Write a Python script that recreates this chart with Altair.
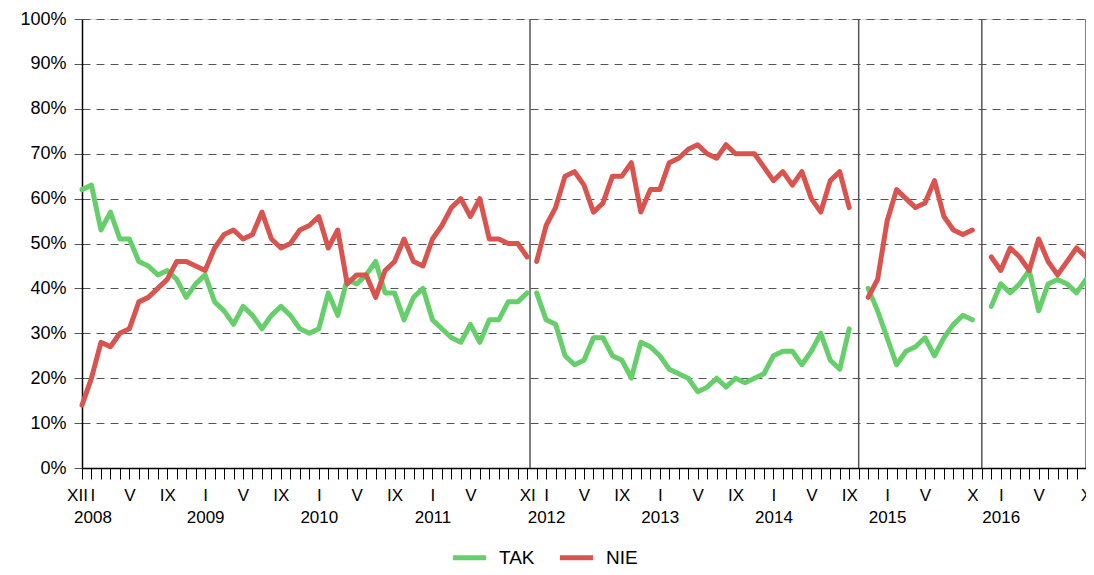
import altair as alt
import pandas as pd

# month index 0 = XII (first survey), one step per month
n_months = 107

tak = [62, 63, 53, 57, 51, 51, 46, 45, 43, 44, 42, 38, 41, 43, 37, 35, 32, 36, 34, 31,
       34, 36, 34, 31, 30, 31, 39, 34, 42, 41, 43, 46, 39, 39, 33, 38, 40, 33, 31, 29,
       28, 32, 28, 33, 33, 37, 37, 39,
       39, 33, 32, 25, 23, 24, 29, 29, 25, 24, 20, 28, 27, 25, 22, 21, 20, 17, 18, 20,
       18, 20, 19, 20, 21, 25, 26, 26, 23, 26, 30, 24, 22, 31,
       None,
       40, 35, 29, 23, 26, 27, 29, 25, 29, 32, 34, 33,
       None,
       36, 41, 39, 41, 44, 35, 41, 42, 41, 39, 42]

nie = [14, 20, 28, 27, 30, 31, 37, 38, 40, 42, 46, 46, 45, 44, 49, 52, 53, 51, 52, 57,
       51, 49, 50, 53, 54, 56, 49, 53, 41, 43, 43, 38, 44, 46, 51, 46, 45, 51, 54, 58,
       60, 56, 60, 51, 51, 50, 50, 47,
       46, 54, 58, 65, 66, 63, 57, 59, 65, 65, 68, 57, 62, 62, 68, 69, 71, 72, 70, 69,
       72, 70, 70, 70, 67, 64, 66, 63, 66, 60, 57, 64, 66, 58,
       None,
       38, 42, 55, 62, 60, 58, 59, 64, 56, 53, 52, 53,
       None,
       47, 44, 49, 47, 44, 51, 46, 43, 46, 49, 47]

series_names = ["TAK", "NIE"]
series_colors = ["#66CF6B", "#D9544E"]

# vertical separators between survey periods (month index)
separators = [47.3, 82, 95, 106]

month_label_idx = [0, 1, 5, 9, 13, 17, 21, 25, 29, 33, 37, 41, 47, 49, 53, 57, 61, 65,
                   69, 73, 77, 81, 85, 89, 94, 97, 101, 106]
month_label_txt = ["XII", "I", "V", "IX", "I", "V", "IX", "I", "V", "IX", "I", "V", "XI",
                   "I", "V", "IX", "I", "V", "IX", "I", "V", "IX", "I", "V", "X", "I", "V", "X"]
year_label_idx = [1, 13, 25, 37, 49, 61, 73, 85, 97]
year_label_txt = ["2008", "2009", "2010", "2011", "2012", "2013", "2014", "2015", "2016"]

y_ticks = [0, 10, 20, 30, 40, 50, 60, 70, 80, 90, 100]

rows = []
for name, vals in zip(series_names, [tak, nie]):
    for i, v in enumerate(vals):
        if v is None:
            continue
        seg = sum(1 for s in separators if s < i)
        rows.append({"m": i, "v": v, "series": name, "seg": seg})
df = pd.DataFrame(rows)
sep_df = pd.DataFrame({"m": separators})

labels = {}
for i, t in zip(month_label_idx, month_label_txt):
    labels[i] = [t]
for i, y in zip(year_label_idx, year_label_txt):
    labels[i] = labels.get(i, [""]) + [y]
parts = []
for k, v in labels.items():
    parts.append("'%d':[%s]" % (k, ",".join("'%s'" % s for s in v)))
label_expr = "({" + ",".join(parts) + "})[''+round(datum.value)] || ''"

FONT = "Liberation Sans"

x_axis = alt.Axis(
    values=list(range(n_months)),
    tickCount=n_months,
    labelExpr=label_expr,
    labelOverlap=False,
    labelFlush=False,
    labelBound=False,
    labelAlign="center",
    labelBaseline="top",
    labelLineHeight=22,
    labelPadding=8,
    labelOffset={"expr": "datum.value == 0 ? -5 : (datum.value == 1 ? 1 : 0)"},
    labelFontSize=17,
    labelFont=FONT,
    labelColor="black",
    tickSize=11,
    tickColor="black",
    tickWidth=1,
    domainColor="black",
    domainWidth=1.5,
    grid=False,
    title=None,
)
x_scale = alt.Scale(domain=[0, n_months - 1], nice=False, zero=False)

y_enc = alt.Y(
    "v:Q",
    scale=alt.Scale(domain=[0, 100], nice=False),
    axis=alt.Axis(
        values=y_ticks,
        labelExpr="datum.value + '%'",
        labelFontSize=18,
        labelFont=FONT,
        labelColor="black",
        labelPadding=3,
        tickSize=13,
        tickColor="#555555",
        tickDash=[8, 6],
        domainColor="black",
        domainWidth=1.5,
        grid=True,
        gridColor="#555555",
        gridDash=[8, 6],
        gridWidth=1,
        title=None,
    ),
)

lines = alt.Chart(df).mark_line(strokeWidth=5, strokeJoin="round", strokeCap="round").encode(
    x=alt.X("m:Q", scale=x_scale, axis=x_axis),
    y=y_enc,
    color=alt.Color(
        "series:N",
        scale=alt.Scale(domain=series_names, range=series_colors),
        sort=series_names,
        legend=alt.Legend(
            title=None,
            orient="none",
            direction="horizontal",
            legendX=368,
            legendY=519,
            symbolType="stroke",
            symbolStrokeWidth=5,
            symbolSize=1100,
            labelFontSize=19,
            labelFont=FONT,
            labelColor="black",
            labelOffset=10,
            columnPadding=14,
        ),
    ),
    detail="seg:N",
    order=alt.Order("m:Q"),
)

rules = alt.Chart(sep_df).mark_rule(color="#555555", strokeWidth=1.5).encode(
    x=alt.X("m:Q", scale=x_scale, axis=x_axis)
)

chart = alt.layer(rules, lines).properties(
    width=1004,
    height=449,
    autosize=alt.AutoSizeParams(type="none"),
    padding={"left": 74, "top": 11, "right": 0, "bottom": 99},
).configure_view(stroke=None).configure(background="white")

chart.save("out.html", embed_options={"renderer": "svg", "actions": False})
